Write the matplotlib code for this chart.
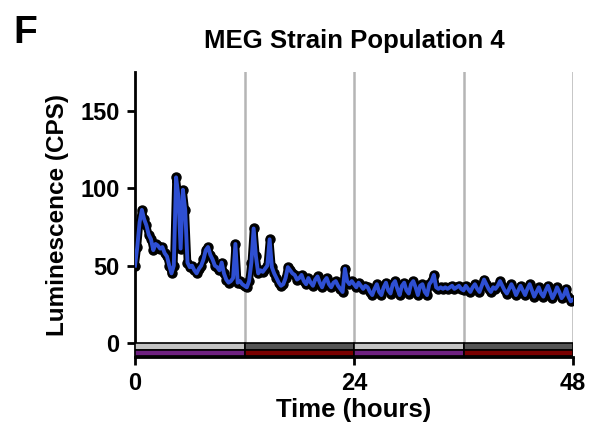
import numpy as np
import matplotlib.pyplot as plt

plt.rcParams['font.family'] = ['Liberation Sans', 'DejaVu Sans']
plt.rcParams['font.weight'] = 'bold'

# Data: luminescence sampled every 15 min over 48 h
hours = np.arange(0, 48.01, 0.25)
cps = [
    50, 62, 78, 86, 80, 76, 70, 67, 60, 64, 63, 61,
    62, 58, 56, 50, 45, 50, 107, 95, 61, 99, 86, 52,
    49, 50, 47, 45, 48, 50, 54, 60, 62, 57, 54, 50,
    49, 47, 52, 45, 41, 39, 40, 42, 64, 39, 40, 38,
    37, 36, 40, 52, 74, 56, 45, 47, 46, 48, 50, 67,
    49, 45, 42, 39, 37, 38, 42, 49, 47, 45, 44, 41,
    42, 44, 40, 38, 42, 39, 37, 41, 43, 39, 36, 40,
    42, 38, 36, 39, 40, 37, 35, 33, 48, 40, 38, 40,
    38, 36, 39, 37, 35, 37, 36, 33, 31, 35, 38, 33,
    31, 36, 39, 34, 32, 38, 40, 35, 31, 37, 39, 34,
    32, 38, 40, 36, 31, 37, 38, 33, 31, 38, 40, 44,
    36, 35, 36, 35, 36, 35, 36, 37, 35, 36, 37, 35,
    34, 37, 35, 33, 36, 38, 35, 33, 37, 41, 38, 35,
    33, 36, 35, 37, 40, 37, 34, 32, 35, 38, 35, 31,
    34, 37, 34, 31, 35, 38, 34, 30, 33, 36, 32, 30,
    34, 37, 33, 29, 32, 36, 33, 29, 31, 35, 30, 27,
    28,
]

# light/dark schedule bars (start, width)
phase_starts = [0, 12, 24, 36]
phase_width = 12
light_cols = ['#c4c4c4', '#555555', '#c4c4c4', '#555555']
temp_cols = ['#6e2180', '#7a0000', '#6e2180', '#7a0000']

fig = plt.figure(figsize=(5.99, 4.34), dpi=100)
ax = fig.add_axes([0.2254, 0.1774, 0.7312, 0.6566])

for x in [12, 24, 36, 48]:
    ax.axvline(x, color='#b5b5b5', lw=1.8, zorder=1)

ax.plot(hours, cps, color='black', lw=5.5, marker='o', ms=6.5,
        mec='black', mfc='black', solid_capstyle='round', zorder=3)
ax.plot(hours, cps, color='#2e4fd2', lw=2.8, zorder=4)

ax.broken_barh([(s, phase_width) for s in phase_starts], (-4.2, 4.2),
               facecolors=light_cols, edgecolor='black', lw=1.2, zorder=5)
ax.broken_barh([(s, phase_width) for s in phase_starts], (-8.4, 4.2),
               facecolors=temp_cols, edgecolor='black', lw=1.2, zorder=5)

ax.set_xlim(0, 48)
ax.set_ylim(-9, 175)
ax.set_xticks([0, 24, 48])
ax.set_yticks([0, 50, 100, 150])
ax.spines['top'].set_visible(False)
ax.spines['right'].set_visible(False)
for s in ['left', 'bottom']:
    ax.spines[s].set_linewidth(2)
ax.tick_params(width=2, length=6, labelsize=17, pad=5)
for lbl in ax.get_xticklabels() + ax.get_yticklabels():
    lbl.set_fontweight('bold')

ax.set_xlabel('Time (hours)', fontsize=18.5, fontweight='bold', labelpad=2)
ax.set_ylabel('Luminescence (CPS)', fontsize=17.5, fontweight='bold', labelpad=8)
ax.set_title('MEG Strain Population 4', fontsize=18.5, fontweight='bold', pad=17)
fig.text(0.022, 0.9, 'F', fontsize=28, fontweight='bold')

fig.savefig('out.png', dpi=100)
